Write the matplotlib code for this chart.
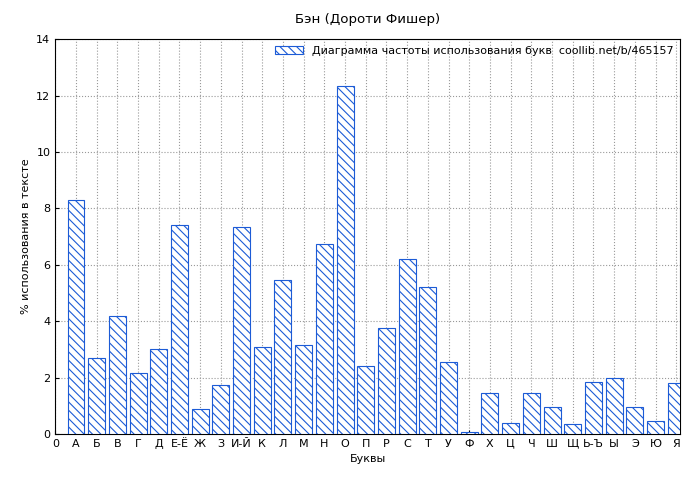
import numpy as np
import matplotlib
matplotlib.use('Agg')
import matplotlib.pyplot as plt

letters = ['А', 'Б', 'В', 'Г', 'Д', 'Е-Ё', 'Ж', 'З', 'И-Й', 'К', 'Л', 'М', 'Н', 'О', 'П',
           'Р', 'С', 'Т', 'У', 'Ф', 'Х', 'Ц', 'Ч', 'Ш', 'Щ', 'Ь-Ъ', 'Ы', 'Э', 'Ю', 'Я']
values = [8.3, 2.7, 4.2, 2.15, 3.0, 7.4, 0.9, 1.75, 7.35, 3.1, 5.45, 3.15, 6.75, 12.35, 2.4,
          3.75, 6.2, 5.2, 2.55, 0.08, 1.45, 0.4, 1.45, 0.95, 0.35, 1.85, 2.0, 0.95, 0.45, 1.8]

plt.rcParams['font.size'] = 8
plt.rcParams['hatch.color'] = '#1c5bd6'
plt.rcParams['hatch.linewidth'] = 0.8

fig = plt.figure(figsize=(7, 4.8), dpi=100)
ax = fig.add_axes([0.079, 0.096, 0.893, 0.822])

x = np.arange(1, len(letters) + 1)
ax.bar(x, values, width=0.82, color='white', edgecolor='#1c5bd6', hatch='\\\\\\\\',
       linewidth=0.8, label='Диаграмма частоты использования букв  coollib.net/b/465157', zorder=3)

ax.set_xlim(0, 30.2)
ax.set_ylim(0, 14)
ax.set_xticks(np.arange(0, 31))
ax.set_xticklabels(['0'] + letters)
ax.set_yticks(np.arange(0, 15, 2))
ax.grid(True, color='#999999', linestyle=':', linewidth=0.8, zorder=0)
ax.tick_params(direction='in', length=3)
ax.set_xlabel('Буквы')
ax.set_ylabel('% использования в тексте')
ax.set_title('Бэн (Дороти Фишер)', pad=12)
ax.legend(loc='upper right', frameon=False, handlelength=2.5, borderaxespad=0.2)

fig.savefig('out.png')
